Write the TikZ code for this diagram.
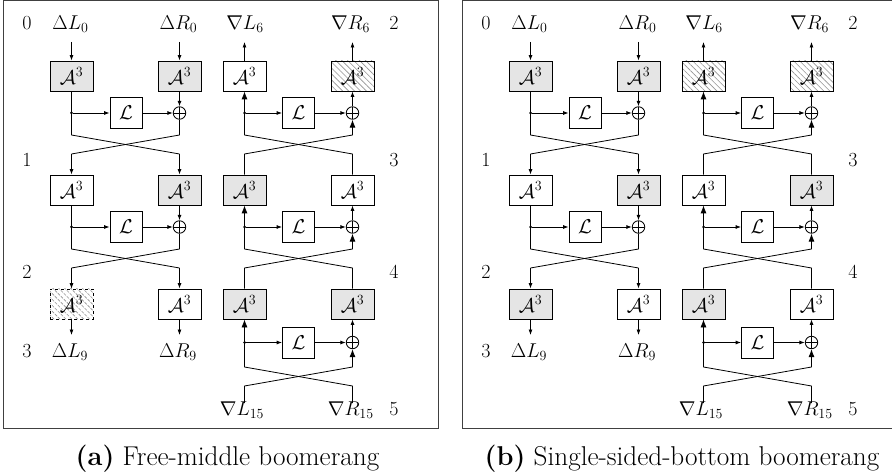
\RequirePackage{fix-cm}
\documentclass[tikz,border=0pt]{standalone}
\usetikzlibrary{arrows.meta,patterns.meta}
\newcommand\dfs{\fontsize{20}{24}\selectfont}
\newcommand\cfs{\fontsize{27.2}{32}\selectfont}
\tikzset{
  blk/.style={draw, line width=0.8pt, minimum width=43pt, minimum height=30pt, inner sep=0pt, font=\dfs},
  gr/.style={blk, fill=gray!20},
  wh/.style={blk, fill=white},
  ht/.style={blk, pattern={Lines[angle=-45,distance=4.2pt,line width=0.6pt]}, pattern color=gray!85},
  htd/.style={ht, dashed},
  lin/.style={draw, fill=white, line width=0.8pt, minimum width=32pt, minimum height=31pt, inner sep=0pt, font=\dfs},
  xo/.style={circle, draw, line width=0.8pt, minimum size=12.5pt, inner sep=0pt,
    path picture={\draw[line width=0.8pt] (path picture bounding box.north) -- (path picture bounding box.south)
      (path picture bounding box.west) -- (path picture bounding box.east);}},
  dotn/.style={circle, fill, inner sep=0pt, minimum size=3pt},
  lab/.style={inner sep=0pt, anchor=base, font=\dfs},
  con/.style={line width=0.8pt},
  sa/.style={con, -{Latex[length=5.5pt,width=4pt]}},
  ba/.style={con, -{Latex[length=8pt,width=6pt]}},
  frame/.style={draw=black!75, line width=1pt},
}
% forward network: #1 prefix, #2 x offset, #3..#8 box styles
\newcommand\fwdnet[8]{%
\begin{scope}[shift={(#2,0)}]
  \node[lab] (#1-n0) at (27,30) {$0$};
  \node[lab] (#1-n1) at (27,166.5) {$1$};
  \node[lab] (#1-n2) at (27,278.5) {$2$};
  \node[lab] (#1-n3) at (27,357) {$3$};
  \node[lab] (#1-il) at (70.5,30) {$\Delta L_0$};
  \node[lab] (#1-ir) at (178.5,30) {$\Delta R_0$};
  \node[lab] (#1-ol) at (70,357) {$\Delta L_9$};
  \node[lab] (#1-or) at (178,357) {$\Delta R_9$};
  \coordinate (#1-al) at (71.5,42);
  \coordinate (#1-ar) at (179.5,42);
  \coordinate (#1-el) at (71.5,335);
  \coordinate (#1-er) at (179.5,335);
  \node[#3] (#1-b1-l) at (71.5,76) {$\mathcal{A}^3$};
  \node[#4] (#1-b1-r) at (179.5,76) {$\mathcal{A}^3$};
  \node[#5] (#1-b2-l) at (71.5,190) {$\mathcal{A}^3$};
  \node[#6] (#1-b2-r) at (179.5,190) {$\mathcal{A}^3$};
  \node[#7] (#1-b3-l) at (71.5,304) {$\mathcal{A}^3$};
  \node[#8] (#1-b3-r) at (179.5,304) {$\mathcal{A}^3$};
  \draw[sa] (#1-al) -- (#1-b1-l);
  \draw[sa] (#1-ar) -- (#1-b1-r);
  \draw[sa] (#1-b3-l) -- (#1-el);
  \draw[sa] (#1-b3-r) -- (#1-er);
  \foreach \r/\y/\n in {1/76/2,2/190/3}{
    \node[lin] (#1-L\r) at (126,\y+37) {$\mathcal{L}$};
    \node[xo] (#1-x\r) at (179.5,\y+37) {};
    \node[dotn] (#1-d\r) at (71.5,\y+37) {};
    \coordinate (#1-c\r-lt) at (71.5,\y+59);
    \coordinate (#1-c\r-rt) at (179.5,\y+59);
    \coordinate (#1-c\r-lb) at (71.5,\y+78);
    \coordinate (#1-c\r-rb) at (179.5,\y+78);
    \draw[con] (#1-b\r-l) -- (#1-d\r.center) -- (#1-c\r-lt) -- (#1-c\r-rb);
    \draw[sa] (#1-c\r-rb) -- (#1-b\n-r);
    \draw[sa] (#1-d\r) -- (#1-L\r);
    \draw[sa] (#1-L\r) -- (#1-x\r);
    \draw[sa] (#1-b\r-r) -- (#1-x\r);
    \draw[con] (#1-x\r) -- (#1-c\r-rt) -- (#1-c\r-lb);
    \draw[sa] (#1-c\r-lb) -- (#1-b\n-l);
  }
\end{scope}}
% backward network
\newcommand\bwdnet[8]{%
\begin{scope}[shift={(#2,0)}]
  \node[lab] (#1-m2) at (394,30) {$2$};
  \node[lab] (#1-m3) at (394,166.5) {$3$};
  \node[lab] (#1-m4) at (394,278.5) {$4$};
  \node[lab] (#1-m5) at (394,415) {$5$};
  \node[lab] (#1-tll) at (245,30) {$\nabla L_6$};
  \node[lab] (#1-trl) at (350.5,30) {$\nabla R_6$};
  \node[lab] (#1-sll) at (242,415) {$\nabla L_{15}$};
  \node[lab] (#1-srl) at (350.8,415) {$\nabla R_{15}$};
  \coordinate (#1-tl) at (244.5,42);
  \coordinate (#1-tr) at (352.5,42);
  \coordinate (#1-sl) at (244.5,403);
  \coordinate (#1-sr) at (352.5,403);
  \node[#3] (#1-b1-l) at (244.5,76) {$\mathcal{A}^3$};
  \node[#4] (#1-b1-r) at (352.5,76) {$\mathcal{A}^3$};
  \node[#5] (#1-b2-l) at (244.5,190) {$\mathcal{A}^3$};
  \node[#6] (#1-b2-r) at (352.5,190) {$\mathcal{A}^3$};
  \node[#7] (#1-b3-l) at (244.5,304) {$\mathcal{A}^3$};
  \node[#8] (#1-b3-r) at (352.5,304) {$\mathcal{A}^3$};
  \draw[sa] (#1-b1-l) -- (#1-tl);
  \draw[sa] (#1-b1-r) -- (#1-tr);
  \foreach \r/\ly/\ct/\cb/\sl/\sr in {1/113/135/154/#1-b2-l/#1-b2-r,2/227/249/268/#1-b3-l/#1-b3-r,3/342.5/367/386/#1-sl/#1-sr}{
    \node[lin] (#1-L\r) at (298.5,\ly) {$\mathcal{L}$};
    \node[xo] (#1-x\r) at (352.5,\ly) {};
    \node[dotn] (#1-d\r) at (244.5,\ly) {};
    \coordinate (#1-c\r-lt) at (244.5,\ct);
    \coordinate (#1-c\r-rt) at (352.5,\ct);
    \coordinate (#1-c\r-lb) at (244.5,\cb);
    \coordinate (#1-c\r-rb) at (352.5,\cb);
    \draw[ba] (\sl) -- (#1-c\r-lb) -- (#1-c\r-rt) -- (#1-x\r);
    \draw[con] (\sr) -- (#1-c\r-rb) -- (#1-c\r-lt) -- (#1-d\r.center);
    \draw[ba] (#1-d\r.center) -- (#1-b\r-l);
    \draw[sa] (#1-d\r) -- (#1-L\r);
    \draw[sa] (#1-L\r) -- (#1-x\r);
    \draw[sa] (#1-x\r) -- (#1-b\r-r);
  }
\end{scope}}
\begin{document}
\begin{tikzpicture}[x=1pt,y=-1pt]
  \clip (0,0) rectangle (892,473);
  \fill[white] (0,0) rectangle (892,473);
  \draw[frame] (3,1) rectangle (438,428);
  \draw[frame] (462,1) rectangle (897,428);
  \fwdnet{a}{0}{gr}{gr}{wh}{gr}{htd}{wh}
  \bwdnet{A}{0}{wh}{ht}{gr}{wh}{gr}{gr}
  \fwdnet{b}{459}{gr}{gr}{wh}{gr}{gr}{wh}
  \bwdnet{B}{459}{ht}{ht}{wh}{gr}{gr}{wh}
  \node[font=\cfs, anchor=base, inner sep=0pt] (capa) at (227.5,465) {\textbf{(a)} Free-middle boomerang};
  \node[font=\cfs, anchor=base, inner sep=0pt] (capb) at (682,465) {\textbf{(b)} Single-sided-bottom boomerang};
\end{tikzpicture}
\end{document}
